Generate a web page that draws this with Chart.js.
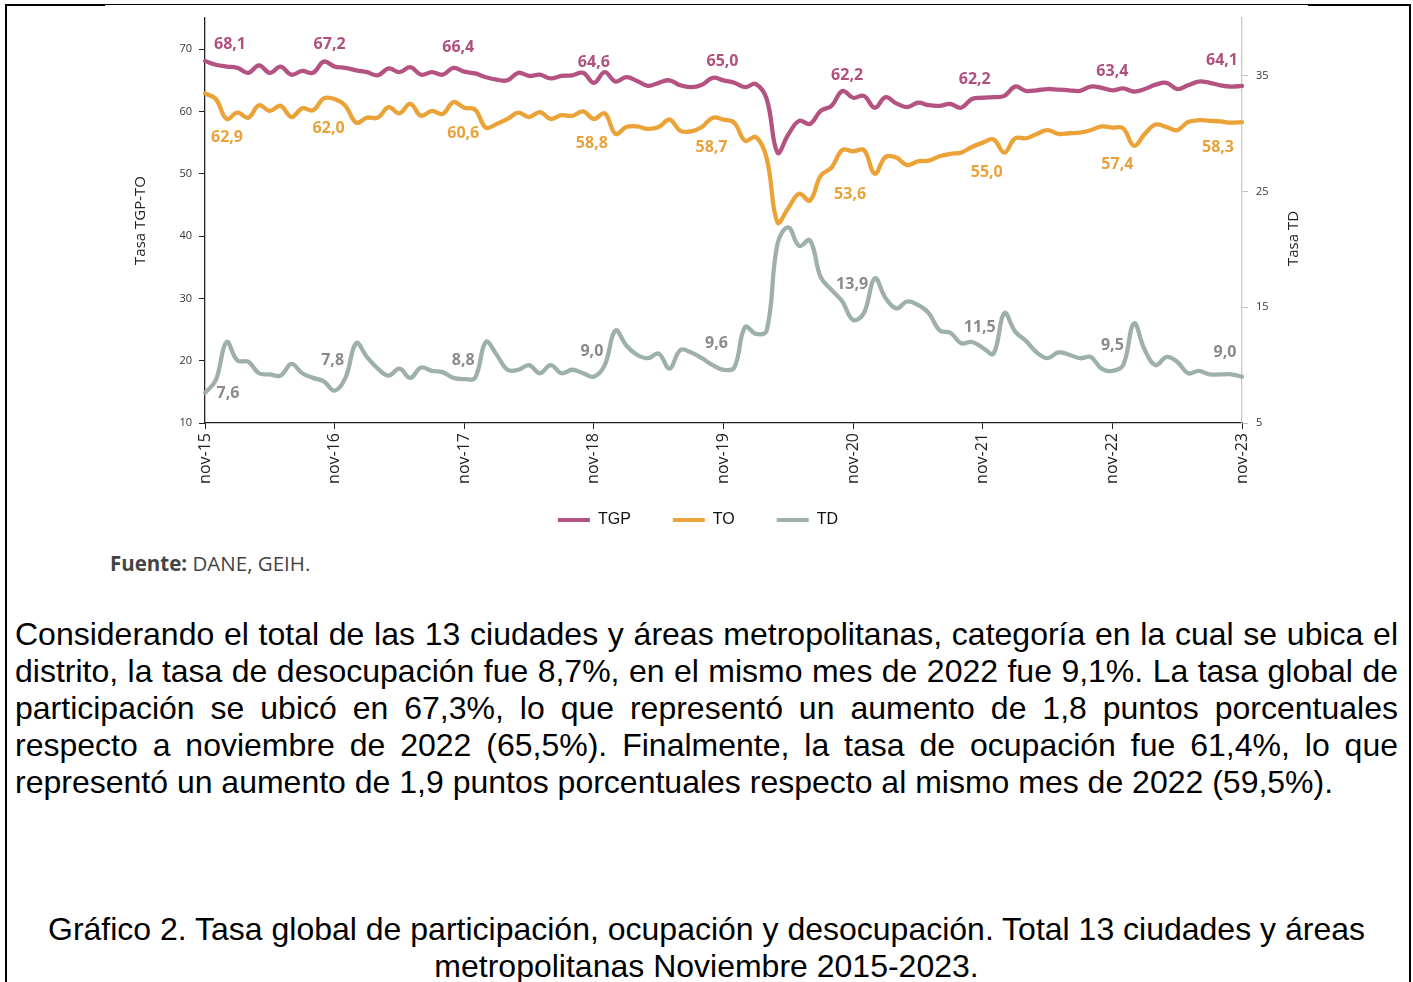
<!DOCTYPE html>
<html>
<head>
<meta charset="utf-8">
<script src="https://cdn.jsdelivr.net/npm/chart.js@4.4.1/dist/chart.umd.min.js"></script>
<style>
  html, body { margin: 0; padding: 0; background: #fff; }
  body { width: 1413px; height: 982px; position: relative; overflow: hidden; }
  #chartBox { position: absolute; left: 0; top: 0; width: 1413px; height: 540px; }
  .frame { position: absolute; background: #000; }
  #fuente { position: absolute; left: 110px; top: 549px; font: 20.5px "Open Sans", sans-serif; color: #444; line-height: 28px; }
  #fuente b { font-weight: 700; }
  #texto { position: absolute; left: 15px; top: 616px; width: 1383px; font: 32px "Liberation Sans", Arial, sans-serif; line-height: 37px; color: #000; }
  .j { text-align: justify; text-align-last: justify; }
  #caption { position: absolute; left: 15px; top: 911px; width: 1383px; font: 32px "Liberation Sans", Arial, sans-serif; line-height: 37px; color: #000; text-align: center; }
</style>
</head>
<body>
<div class="frame" style="left:5px;top:4px;width:2px;height:978px"></div>
<div class="frame" style="left:1409px;top:4px;width:2px;height:978px"></div>
<div class="frame" style="left:5px;top:4px;width:100px;height:2px"></div>
<div class="frame" style="left:105px;top:4px;width:1203px;height:1px"></div>
<div class="frame" style="left:1308px;top:4px;width:103px;height:2px"></div>

<div id="chartBox"><canvas id="grafico" width="1413" height="540"></canvas></div>

<div id="fuente"><b>Fuente:</b> DANE, GEIH.</div>

<div id="texto">
  <div class="j">Considerando el total de las 13 ciudades y áreas metropolitanas, categoría en la cual se ubica el</div>
  <div class="j">distrito, la tasa de desocupación fue 8,7%, en el mismo mes de 2022 fue 9,1%. La tasa global de</div>
  <div class="j">participación se ubicó en 67,3%, lo que representó un aumento de 1,8 puntos porcentuales</div>
  <div class="j">respecto a noviembre de 2022 (65,5%). Finalmente, la tasa de ocupación fue 61,4%, lo que</div>
  <div>representó un aumento de 1,9 puntos porcentuales respecto al mismo mes de 2022 (59,5%).</div>
</div>

<div id="caption">
  <div>Gráfico 2. Tasa global de participación, ocupación y desocupación. Total 13 ciudades y áreas</div>
  <div>metropolitanas Noviembre 2015-2023.</div>
</div>

<script>
// meses nov-15 ... nov-23
var months = ["nov", "dic", "ene", "feb", "mar", "abr", "may", "jun", "jul", "ago", "sep", "oct"];
var years = ["15", "16", "17", "18", "19", "20", "21", "22", "23"];

// Tasa global de participación (nov-15 .. nov-23), una fila por año
var tgp = [
  68.1, 67.5, 67.2, 67.0, 66.2, 67.4, 66.2, 67.2, 65.9, 66.5, 66.2, 68.0,
  67.2, 67.0, 66.6, 66.3, 65.8, 66.9, 66.3, 67.1, 65.9, 66.3, 65.9, 67.0,
  66.4, 66.1, 65.5, 65.1, 65.0, 66.2, 65.7, 65.9, 65.3, 65.7, 65.8, 66.2,
  64.6, 66.3, 64.8, 65.5, 64.9, 64.1, 64.6, 65.0, 64.2, 63.9, 64.3, 65.4,
  65.0, 64.6, 63.9, 64.4, 62.0, 53.4, 56.3, 58.5, 58.0, 60.1, 60.9, 63.3,
  62.2, 62.5, 60.6, 62.3, 61.3, 60.7, 61.4, 61.0, 60.9, 61.2, 60.6, 62.0,
  62.2, 62.3, 62.5, 64.0, 63.3, 63.4, 63.6, 63.5, 63.4, 63.3, 64.0, 63.8,
  63.4, 63.7, 63.2, 63.6, 64.3, 64.6, 63.6, 64.2, 64.8, 64.6, 64.2, 64.0,
  64.1
];

// Tasa de ocupación
var to = [
  62.9, 62.0, 58.8, 59.8, 59.0, 61.0, 60.1, 60.9, 59.1, 60.5, 60.2, 62.1,
  62.0, 60.9, 58.2, 59.0, 59.0, 60.7, 59.7, 61.2, 59.3, 60.1, 59.6, 61.5,
  60.6, 60.3, 57.4, 58.0, 58.8, 59.8, 59.1, 59.9, 58.8, 59.4, 59.3, 60.0,
  58.8, 59.7, 56.4, 57.5, 57.6, 57.2, 57.5, 58.7, 56.9, 56.8, 57.5, 59.0,
  58.7, 58.2, 55.3, 55.9, 52.5, 42.2, 44.5, 46.8, 45.7, 49.7, 51.0, 53.8,
  53.6, 53.8, 50.0, 52.7, 52.6, 51.4, 52.0, 52.1, 52.8, 53.2, 53.4, 54.3,
  55.0, 55.5, 53.4, 55.7, 55.7, 56.4, 57.0, 56.4, 56.5, 56.6, 57.0, 57.6,
  57.4, 57.3, 54.5, 56.4, 57.9, 57.5, 57.0, 58.3, 58.6, 58.5, 58.4, 58.2,
  58.3
];

// Tasa de desocupación (eje derecho)
var td = [
  7.6, 8.7, 12.0, 10.4, 10.3, 9.3, 9.2, 9.1, 10.1, 9.3, 8.9, 8.6,
  7.8, 8.9, 11.9, 10.7, 9.7, 9.1, 9.7, 8.9, 9.8, 9.5, 9.4, 8.9,
  8.8, 8.9, 12.0, 10.9, 9.6, 9.6, 10.0, 9.3, 10.0, 9.3, 9.6, 9.3,
  9.0, 10.0, 13.0, 11.7, 10.9, 10.6, 11.0, 9.7, 11.3, 11.1, 10.6, 10.0,
  9.6, 9.8, 13.3, 12.7, 13.0, 20.5, 21.9, 20.3, 20.8, 17.6, 16.5, 15.5,
  13.9, 14.5, 17.5, 15.8, 14.9, 15.5, 15.2, 14.5, 13.0, 12.8, 11.9, 12.0,
  11.5, 11.0, 14.5, 12.9, 12.1, 11.1, 10.6, 11.1, 10.9, 10.6, 10.7, 9.7,
  9.5, 10.0, 13.6, 11.3, 10.0, 10.7, 10.3, 9.3, 9.5, 9.2, 9.2, 9.2,
  9.0
];

var leftTicks = [10, 20, 30, 40, 50, 60, 70];
var rightTicks = [5, 15, 25, 35];
var labelIdx = [0, 12, 24, 36, 48, 60, 72, 84, 96]; // cada noviembre

var categories = [];
for (var i = 0; i < tgp.length; i++) {
  var m = i % 12;
  var y = Math.floor(i / 12) + (m < 2 ? 0 : 1);
  categories.push(months[m] + "-" + years[y]);
}

var colTGP = "#b45282";
var colTO = "#eba237";
var colTD = "#9eb0ac";

// etiquetas de valor en cada noviembre + titulo derecho
var pointLabels = {
  id: "pointLabels",
  afterDatasetsDraw: function (chart, args, opts) {
    var ctx = chart.ctx;
    ctx.save();
    ctx.font = "bold 16px 'Open Sans'";
    ctx.textAlign = "center";
    ctx.textBaseline = "middle";
    chart.data.datasets.forEach(function (ds, d) {
      var meta = chart.getDatasetMeta(d);
      ctx.fillStyle = opts.colors[d];
      labelIdx.forEach(function (idx, k) {
        var pt = meta.data[idx];
        var txt = ds.data[idx].toFixed(1).replace(".", ",");
        ctx.fillText(txt, pt.x + opts.offsets[d][k][0], pt.y + opts.offsets[d][k][1]);
      });
    });
    // titulo eje derecho, leido de abajo hacia arriba
    var s = chart.scales.y1;
    ctx.font = "15px 'Open Sans'";
    ctx.fillStyle = "#222";
    ctx.translate(s.right - 12, (s.top + s.bottom) / 2 + 18);
    ctx.rotate(-Math.PI / 2);
    ctx.fillText(opts.rightTitle, 0, 0);
    ctx.restore();
  }
};

var ctx = document.getElementById("grafico").getContext("2d");

var chart = new Chart(ctx, {
  type: "line",
  data: {
    labels: categories,
    datasets: [
      { label: "TGP", data: tgp, borderColor: colTGP, backgroundColor: colTGP, yAxisID: "y" },
      { label: "TO", data: to, borderColor: colTO, backgroundColor: colTO, yAxisID: "y" },
      { label: "TD", data: td, borderColor: colTD, backgroundColor: colTD, yAxisID: "y1" }
    ]
  },
  options: {
    responsive: false,
    animation: false,
    devicePixelRatio: 1,
    layout: { padding: { left: 106, right: 107, top: 18, bottom: 2 } },
    elements: {
      line: { borderWidth: 4.3, tension: 0.4, borderCapStyle: "round" },
      point: { radius: 0 }
    },
    scales: {
      x: {
        type: "category",
        offset: false,
        grid: { drawOnChartArea: false, tickLength: 6, color: "#222" },
        border: { color: "#222", width: 1.3 },
        ticks: {
          autoSkip: false, maxRotation: 90, minRotation: 90, padding: 4,
          font: { family: "Open Sans", size: 16 }, color: "#222"
        },
        afterBuildTicks: function (s) {
          s.ticks = s.ticks.filter(function (t) { return t.value % 12 === 0; });
        },
        afterFit: function (s) { s.height = 63; }
      },
      y: {
        position: "left",
        min: 10,
        max: 75,
        grid: { drawOnChartArea: false, tickLength: 6, color: "#222" },
        border: { color: "#222", width: 1.3 },
        ticks: { padding: 7, font: { family: "Open Sans", size: 11 }, color: "#333" },
        afterBuildTicks: function (s) {
          s.ticks = leftTicks.map(function (v) { return { value: v }; });
        },
        afterFit: function (s) { s.width = 99; },
        title: {
          display: true, text: "Tasa TGP-TO", color: "#222",
          font: { family: "Open Sans", size: 15 }, padding: { top: 26, bottom: 0 }
        }
      },
      y1: {
        position: "right",
        min: 5,
        max: 40,
        grid: { drawOnChartArea: false, tickLength: 6, color: "#c0c0c0" },
        border: { color: "#c8c8c8", width: 1.3 },
        ticks: { padding: 8, font: { family: "Open Sans", size: 11 }, color: "#333" },
        afterBuildTicks: function (s) {
          s.ticks = rightTicks.map(function (v) { return { value: v }; });
        },
        afterFit: function (s) { s.width = 64; }
      }
    },
    plugins: {
      tooltip: { enabled: false },
      legend: {
        position: "bottom",
        labels: {
          boxWidth: 32,
          boxHeight: 4,
          padding: 26,
          color: "#111",
          font: { family: "Liberation Sans", size: 16 },
          generateLabels: function (chart) {
            return Chart.defaults.plugins.legend.labels.generateLabels(chart).map(function (l) {
              l.lineWidth = 0;
              l.fillStyle = l.strokeStyle;
              l.text = l.text + "\u2003"; // espacio extra entre entradas
              return l;
            });
          }
        }
      },
      pointLabels: {
        colors: ["#b0507f", "#e9a23a", "#8a8a8a"],
        rightTitle: "Tasa TD",
        offsets: [
          [[25, -17], [-5, -22], [-6, -24], [0, -20], [-1, -19], [-6, -22], [-8, -18], [0, -19], [-20, -25]],
          [[22, 44], [-6, 29], [-1, 26], [-2, 24], [-12, 28], [-3, 43], [4, 30], [5, 37], [-24, 25]],
          [[23, 1], [-2, -30], [-1, -19], [-2, -25], [-7, -26], [-1, -36], [-3, -20], [0, -25], [-17, -24]]
        ]
      }
    }
  },
  plugins: [pointLabels]
});
</script>
</body>
</html>
